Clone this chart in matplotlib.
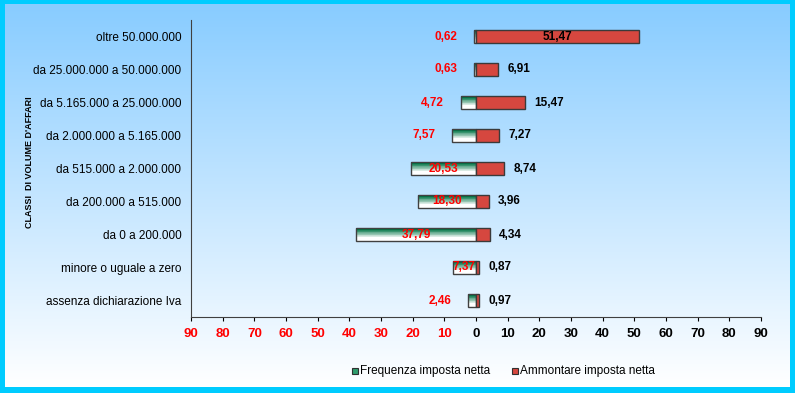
import matplotlib.pyplot as plt
import numpy as np
from matplotlib.patches import Rectangle

plt.rcParams['font.family'] = ['Liberation Sans', 'DejaVu Sans']

# data
classes = ['oltre 50.000.000', 'da 25.000.000 a 50.000.000', 'da 5.165.000 a 25.000.000',
           'da 2.000.000 a 5.165.000', 'da 515.000 a 2.000.000', 'da 200.000 a 515.000',
           'da 0 a 200.000', 'minore o uguale a zero', 'assenza dichiarazione Iva']
frequenza = [0.62, 0.63, 4.72, 7.57, 20.53, 18.30, 37.79, 7.37, 2.46]
ammontare = [51.47, 6.91, 15.47, 7.27, 8.74, 3.96, 4.34, 0.87, 0.97]
ticks = [-90, -80, -70, -60, -50, -40, -30, -20, -10, 0, 10, 20, 30, 40, 50, 60, 70, 80, 90]

fig = plt.figure(figsize=(7.95, 3.93), dpi=100)
fig.patch.set_facecolor('#00ccff')

# background gradient panel inside the cyan frame
W, H = 795, 393
bg = fig.add_axes([5 / W, 6 / H, (W - 10) / W, (H - 10) / H])
t = np.linspace(0, 1, 256)[:, None, None]
top = np.array([0x88, 0xcc, 0xff]) / 255
white = np.array([1.0, 1.0, 1.0])
img = top * (1 - t) + white * t
bg.imshow(img, aspect='auto', extent=[0, 1, 0, 1])
bg.axis('off')

ax = fig.add_axes([191 / W, 1 - 317 / H, 570 / W, 297 / H])
ax.patch.set_alpha(0)

y = np.arange(len(classes))
h = 0.42

# green gradient bars: stacked thin slices, dark green on top fading to white
gtop = np.array([0x00, 0x74, 0x44]) / 255
n = 20
for k in range(n):
    frac = (k + 0.5) / n
    m = np.clip((frac - 0.15) * 1.8, 0, 1)
    col = gtop * (1 - m) + white * m
    y0 = y - h / 2 + k * h / n
    ax.barh(y0 + h / (2 * n), [-f for f in frequenza], height=h / n, color=col,
            lw=0, zorder=2)
ax.barh(y, [-f for f in frequenza], height=h, facecolor='none', edgecolor='#404040',
        lw=1.0, zorder=3)

ax.barh(y, ammontare, height=h, color='#d6473f', edgecolor='#3a3a3a', lw=1.0, zorder=3)

# value labels
for yi, f in zip(y, frequenza):
    if f > 7.3 and f != 7.57:
        xl = -f / 2
    else:
        xl = -f - 9
    ax.text(xl, yi, f'{f:.2f}'.replace('.', ','), color='red', fontsize=8.5, fontweight='bold',
            ha='center', va='center', zorder=4)
for yi, a in zip(y, ammontare):
    if a > 40:
        xl = a / 2
        ha = 'center'
    else:
        xl = a + 3
        ha = 'left'
    ax.text(xl, yi, f'{a:.2f}'.replace('.', ','), color='black', fontsize=8.5, fontweight='bold',
            ha=ha, va='center', zorder=4)

ax.set_xlim(-90, 90)
ax.set_ylim(len(classes) - 0.5, -0.5)
ax.set_yticks(y)
ax.set_yticklabels(classes, fontsize=8.5)
ax.tick_params(axis='y', length=0, pad=7)
ax.set_xticks(ticks)
ax.set_xticklabels([str(abs(t)) for t in ticks], fontsize=9.5, fontweight='bold')
for lab, tk in zip(ax.get_xticklabels(), ticks):
    lab.set_color('red' if tk < 0 else 'black')
ax.tick_params(axis='x', direction='out', length=3, pad=5)
for s in ['top', 'right']:
    ax.spines[s].set_visible(False)
ax.spines['left'].set_color('#404040')
ax.spines['bottom'].set_color('#404040')

fig.text(30 / W, 1 - 162 / H, "CLASSI  DI VOLUME D'AFFARI", rotation=90, fontsize=6.5,
         fontweight='bold', ha='center', va='center')

# legend
fig.patches.append(Rectangle((352 / W, 1 - 374 / H), 6 / W, 6 / H, facecolor='#2e9c6c',
                             edgecolor='#303030', lw=0.8, transform=fig.transFigure, figure=fig))
fig.text(360 / W, 1 - 371 / H, 'Frequenza imposta netta', fontsize=8.5, va='center')
fig.patches.append(Rectangle((512 / W, 1 - 374 / H), 6 / W, 6 / H, facecolor='#d6473f',
                             edgecolor='#303030', lw=0.8, transform=fig.transFigure, figure=fig))
fig.text(520 / W, 1 - 371 / H, 'Ammontare imposta netta', fontsize=8.5, va='center')

fig.savefig('out.png', dpi=100, facecolor=fig.get_facecolor())
